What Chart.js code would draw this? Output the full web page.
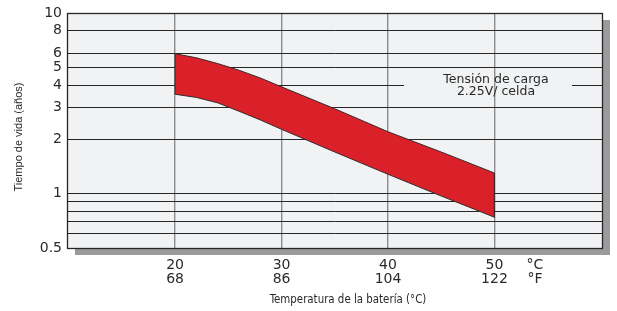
<!DOCTYPE html>
<html lang="es">
<head>
<meta charset="utf-8">
<title>Tiempo de vida vs temperatura</title>
<script src="https://cdn.jsdelivr.net/npm/chart.js@4.4.1/dist/chart.umd.min.js"></script>
<style>
  html, body { margin: 0; padding: 0; background: #fff; }
  canvas { display: block; }
</style>
</head>
<body>
<canvas id="lifeChart" width="617" height="311"></canvas>
<script>
// battery life band (years, log scale)
const temperatures = [20, 22, 24, 26, 28, 30, 35, 40, 45, 50];
const lifeUpper = [5.95, 5.65, 5.25, 4.82, 4.37, 3.9, 2.95, 2.2, 1.7, 1.3];
const lifeLower = [3.55, 3.41, 3.18, 2.86, 2.56, 2.27, 1.7, 1.28, 0.97, 0.74];

const tempTicksC = [20, 30, 40, 50];
const tempTicksF = [68, 86, 104, 122];
const lifeGridValues = [0.5, 0.6, 0.7, 0.8, 0.9, 1, 2, 3, 4, 5, 6, 8, 10];
const lifeLabelValues = [0.5, 1, 2, 3, 4, 5, 6, 8, 10];

const chargeNote = ['Tensión de carga', '2.25V/ celda'];
const yTitle = 'Tiempo de vida (años)';
const xTitle = 'Temperatura de la batería (°C)';

const BAND_RED = '#da2129';
const PLOT_BG = '#f1f2f4';
const GRID_DARK = '#262626';
const GRID_GREY = '#8c8c8c';
const TEXT = '#2a2a2a';
const TICK_FONT = {family: "'DejaVu Sans', sans-serif", size: 14, lineHeight: 1};

// closed outline: upper edge left->right, lower edge back again
const bandOutline = [
    ...temperatures.map((t, i) => ({x: t, y: lifeUpper[i]})),
    ...temperatures.map((t, i) => ({x: t, y: lifeLower[i]})).reverse()
];
bandOutline.push(bandOutline[0]);

const decor = {
    id: 'decor',
    beforeDraw(chart) {
        const {ctx, chartArea: a} = chart;
        ctx.save();
        ctx.fillStyle = '#9b9b9d';
        ctx.fillRect(a.left + 8, a.top + 7, a.right - a.left, a.bottom - a.top);
        ctx.fillStyle = PLOT_BG;
        ctx.fillRect(a.left, a.top, a.right - a.left, a.bottom - a.top);
        ctx.restore();
    },
    beforeDatasetsDraw(chart) {
        const {ctx, chartArea: a, scales} = chart;
        const y4 = Math.round(scales.y.getPixelForValue(4)) + 0.5;
        ctx.save();
        ctx.strokeStyle = GRID_DARK;
        ctx.lineWidth = 1;
        // the 4-year line is broken around the note
        ctx.beginPath();
        ctx.moveTo(a.left, y4);
        ctx.lineTo(404, y4);
        ctx.moveTo(572, y4);
        ctx.lineTo(a.right, y4);
        ctx.stroke();

        ctx.lineWidth = 1.3;
        ctx.strokeRect(Math.round(a.left) + 0.5, Math.round(a.top) + 0.5,
            Math.round(a.right - a.left), Math.round(a.bottom - a.top));

        ctx.fillStyle = TEXT;
        ctx.font = "12.5px 'DejaVu Sans', sans-serif";
        ctx.textAlign = 'center';
        ctx.textBaseline = 'middle';
        ctx.fillText(chargeNote[0], 496, 80);
        ctx.fillText(chargeNote[1], 496, 92);
        ctx.restore();
    },
    afterDraw(chart) {
        const {ctx, scales} = chart;
        ctx.save();
        ctx.fillStyle = TEXT;
        ctx.textBaseline = 'middle';
        ctx.textAlign = 'center';

        const unitX = scales.x.getPixelForValue(53.8);
        ctx.font = "14px 'DejaVu Sans', sans-serif";
        ctx.fillText('°C', unitX, 265);
        ctx.fillText('°F', unitX, 279);

        ctx.font = "11.4px 'DejaVu Sans Condensed', 'DejaVu Sans', sans-serif";
        ctx.fillText(xTitle, 348, 300);

        ctx.translate(18.5, 137);
        ctx.rotate(-Math.PI / 2);
        ctx.font = "11px 'Liberation Sans', Arial, sans-serif";
        ctx.fillText(yTitle, 0, 0);
        ctx.restore();
    }
};

new Chart(document.getElementById('lifeChart'), {
    type: 'line',
    data: {
        datasets: [{
            data: bandOutline,
            fill: 'shape',
            backgroundColor: BAND_RED,
            borderColor: '#3a2a2a',
            borderWidth: 1,
            pointRadius: 0,
            tension: 0
        }]
    },
    options: {
        responsive: false,
        devicePixelRatio: 1,
        animation: false,
        events: [],
        layout: {padding: {left: 0, right: 15, top: 13, bottom: 0}},
        plugins: {
            legend: {display: false},
            tooltip: {enabled: false}
        },
        scales: {
            x: {
                type: 'linear',
                min: 9.85,
                max: 60.1,
                afterFit: scale => { scale.height = 63; },
                afterBuildTicks: scale => {
                    scale.ticks = tempTicksC.map(v => ({value: v}));
                },
                border: {display: false},
                grid: {color: GRID_GREY, lineWidth: 1.4, drawTicks: false},
                ticks: {
                    autoSkip: false,
                    maxRotation: 0,
                    padding: 10,
                    color: TEXT,
                    font: TICK_FONT,
                    callback: value => {
                        const i = tempTicksC.indexOf(value);
                        return i < 0 ? '' : [String(value), String(tempTicksF[i])];
                    }
                }
            },
            y: {
                type: 'logarithmic',
                min: 0.5,
                max: 10,
                afterFit: scale => { scale.width = 67; },
                afterBuildTicks: scale => {
                    scale.ticks = lifeGridValues.map(v => ({value: v}));
                },
                border: {display: false},
                grid: {
                    color: c => (c.tick && c.tick.value === 4) ? 'rgba(0,0,0,0)' : GRID_DARK,
                    lineWidth: 1,
                    drawTicks: false
                },
                ticks: {
                    autoSkip: false,
                    padding: 5,
                    color: TEXT,
                    font: TICK_FONT,
                    callback: value => lifeLabelValues.includes(value) ? String(value) : ''
                }
            }
        }
    },
    plugins: [decor]
});
</script>
</body>
</html>
